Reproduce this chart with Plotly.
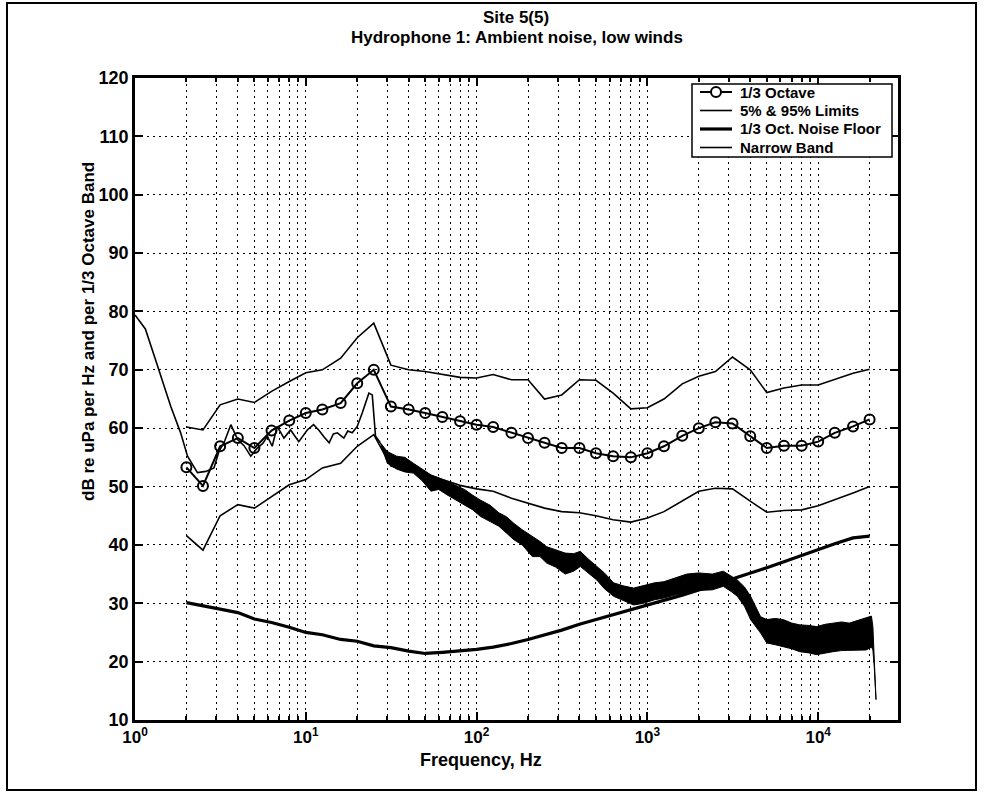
import plotly.graph_objects as go

# 1/3-octave band centre frequencies (Hz)
oct_freq = [2, 2.5, 3.15, 4, 5, 6.3, 8, 10, 12.5, 16, 20, 25, 31.5, 40, 50, 63, 80,
            100, 125, 160, 200, 250, 315, 400, 500, 630, 800, 1000, 1250, 1600,
            2000, 2500, 3150, 4000, 5000, 6300, 8000, 10000, 12500, 16000, 20000]

# 1/3-octave levels (dB)
oct_level = [53.3, 50.1, 56.9, 58.3, 56.6, 59.6, 61.3, 62.6, 63.2, 64.3, 67.7, 70.0,
             63.7, 63.2, 62.6, 61.9, 61.2, 60.6, 60.2, 59.2, 58.3, 57.5, 56.6, 56.6,
             55.7, 55.2, 55.0, 55.7, 56.9, 58.7, 60.0, 61.0, 60.8, 58.6, 56.6, 57.0,
             57.0, 57.7, 59.2, 60.3, 61.5]

# 95% and 5% limits (dB)
lim95 = [60.2, 59.7, 64.0, 65.0, 64.4, 66.3, 68.0, 69.5, 70.0, 72.0, 75.5, 78.0,
         70.8, 70.0, 69.7, 69.2, 68.7, 68.6, 69.2, 68.3, 68.3, 65.0, 65.7, 68.3,
         68.2, 66.0, 63.3, 63.5, 65.0, 67.6, 68.9, 69.7, 72.2, 70.0, 66.1, 66.9,
         67.4, 67.4, 68.4, 69.4, 70.1]
lim5 = [41.6, 39.1, 45.0, 46.9, 46.3, 48.3, 50.3, 51.2, 53.2, 54.0, 56.9, 58.9,
        53.5, 52.8, 52.2, 51.2, 50.2, 49.6, 49.2, 48.0, 47.2, 46.3, 45.7, 45.5,
        45.0, 44.3, 43.9, 44.6, 45.7, 47.6, 49.2, 49.7, 49.6, 47.5, 45.6, 45.9,
        46.0, 46.7, 47.7, 48.9, 50.0]

# 1/3-octave system noise floor (dB)
floor_level = [30.1, 29.6, 29.0, 28.4, 27.3, 26.7, 25.9, 25.0, 24.6, 23.8, 23.5, 22.7,
               22.4, 21.8, 21.4, 21.6, 21.8, 22.1, 22.5, 23.1, 23.8, 24.6, 25.4, 26.4,
               27.2, 28.0, 28.8, 29.7, 30.5, 31.4, 32.3, 33.2, 34.2, 35.2, 36.1, 37.1,
               38.2, 39.2, 40.2, 41.2, 41.5]

# Narrow-band spectrum, low-frequency part (single trace)
nb_freq = [1.0, 1.15, 1.3, 1.45, 1.62, 1.85, 2.03, 2.32, 2.6, 2.9, 3.1, 3.35, 3.64,
           4.0, 4.35, 4.76, 5.2, 5.6, 5.96, 6.36, 6.8, 7.45, 8.14, 9.1, 10.2, 11.1,
           11.9, 12.8, 13.7, 14.5, 15.3, 16.7, 17.6, 18.7, 20.0, 21.4, 22.5, 23.4,
           24.5, 25.6, 27.3]
nb_level = [79.4, 77.0, 72.3, 68.0, 63.7, 59.2, 55.2, 52.4, 52.6, 53.2, 56.0, 57.8,
            60.6, 58.0, 57.0, 55.2, 56.6, 57.4, 58.6, 56.9, 60.3, 58.3, 59.7, 57.7,
            59.7, 60.6, 59.7, 58.5, 57.5, 59.0, 59.2, 58.3, 59.5, 59.2, 60.3, 62.6,
            64.5, 66.0, 65.7, 58.6, 57.5]

# Narrow-band spectrum above ~27 Hz: spread of the dense bins (upper / lower edge, dB)
band_freq = [27.3, 30, 34, 38, 42.6, 48, 54, 60, 67, 75, 85, 95, 105, 120, 135, 150,
             165, 185, 212, 235, 257, 290, 330, 370, 405, 450, 505, 560, 634, 720,
             830, 950, 1100, 1250, 1450, 1700, 2000, 2400, 2780, 3100, 3360, 3700,
             4020, 4600, 5000, 5600, 6250, 7000, 7800, 8800, 9800, 11000, 12200,
             13700, 15200, 17000, 19100, 20500, 20900, 21300, 21800]
band_upper = [57.5, 56.0, 55.2, 55.0, 54.0, 53.0, 52.0, 51.5, 50.9, 50.2, 49.5, 48.5,
              47.7, 46.8, 45.5, 44.8, 43.7, 42.6, 41.5, 40.6, 39.7, 39.2, 38.6, 38.5,
              38.9, 37.6, 36.3, 35.2, 33.5, 33.0, 32.6, 33.0, 33.5, 33.7, 34.3, 35.0,
              35.2, 35.0, 35.5, 34.6, 34.0, 32.8, 31.2, 27.7, 27.2, 27.4, 27.2, 26.6,
              26.3, 26.2, 26.0, 26.4, 26.6, 26.8, 26.6, 27.0, 27.5, 27.8, 26.0, 21.0,
              13.5]
band_lower = [57.5, 54.0, 53.0, 52.5, 52.3, 51.0, 49.2, 49.5, 48.6, 47.8, 46.8, 46.0,
              44.9, 44.0, 43.2, 42.0, 40.9, 40.0, 38.0, 38.0, 36.9, 36.2, 35.0, 35.5,
              36.3, 35.2, 34.0, 32.5, 31.2, 30.5, 29.7, 30.0, 30.6, 30.9, 31.4, 31.8,
              32.2, 32.3, 32.9, 32.0, 31.2, 29.5, 27.2, 24.9, 23.2, 22.9, 22.6, 22.2,
              21.7, 21.5, 21.2, 21.5, 21.7, 21.9, 22.0, 22.0, 22.0, 22.5, 22.0, 19.0,
              13.5]

# Axis ticks
x_tick_vals = [1, 10, 100, 1000, 10000]
x_tick_text = ["10<sup>0</sup>", "10<sup>1</sup>", "10<sup>2</sup>",
               "10<sup>3</sup>", "10<sup>4</sup>"]
y_tick_vals = [10, 20, 30, 40, 50, 60, 70, 80, 90, 100, 110, 120]

# Legend entries: label, line width, circle marker
legend_labels = ["1/3 Octave", "5% & 95% Limits", "1/3 Oct. Noise Floor", "Narrow Band"]
legend_widths = [2, 1.6, 3.2, 1.6]
legend_marker = [True, False, False, False]

# Plot-area geometry in pixels
W, H = 984, 807
L, R, T, B = 135, 898, 78, 720


def px(xpix):
    return (xpix - L) / (R - L)


def py(ypix):
    return (B - ypix) / (B - T)


minor_vals = [m * 10 ** d for d in range(0, 5) for m in range(2, 10)]

FONT = "Liberation Sans, Arial, Helvetica, sans-serif"
DOTS = "2px,4px"

fig = go.Figure()

# Dense narrow-band region drawn as a filled strip
fig.add_trace(go.Scatter(
    x=band_freq + band_freq[::-1],
    y=band_upper + band_lower[::-1],
    mode="lines", fill="toself", fillcolor="black",
    line=dict(color="black", width=1), hoverinfo="skip",
))
fig.add_trace(go.Scatter(
    x=nb_freq, y=nb_level, mode="lines", name="Narrow Band",
    line=dict(color="black", width=1.6),
))
fig.add_trace(go.Scatter(
    x=oct_freq, y=lim95, mode="lines", name="95% limit",
    line=dict(color="black", width=1.6),
))
fig.add_trace(go.Scatter(
    x=oct_freq, y=lim5, mode="lines", name="5% limit",
    line=dict(color="black", width=1.6),
))
fig.add_trace(go.Scatter(
    x=oct_freq, y=floor_level, mode="lines", name="1/3 Oct. Noise Floor",
    line=dict(color="black", width=3.2),
))
fig.add_trace(go.Scatter(
    x=oct_freq, y=oct_level, mode="lines+markers", name="1/3 Octave",
    line=dict(color="black", width=2),
    marker=dict(symbol="circle-open", size=10, color="black",
                line=dict(color="black", width=2)),
))

axis_common = dict(
    showline=True, linecolor="black", linewidth=2.5, mirror="ticks",
    ticks="inside", tickcolor="black", ticklen=8, tickwidth=1.5,
    showgrid=True, gridcolor="black", gridwidth=1.2, griddash=DOTS,
    zeroline=False,
    tickfont=dict(family=FONT, size=18, color="black", weight="bold"),
)

fig.update_xaxes(
    type="log", range=[0, (R - L) / 170.8], tickmode="array",
    tickvals=x_tick_vals, ticktext=x_tick_text,
    minor=dict(tickvals=minor_vals, showgrid=True, gridcolor="black",
               gridwidth=1.2, griddash=DOTS, ticks="inside", ticklen=4,
               tickcolor="black"),
    **axis_common,
)
fig.update_xaxes(tickfont=dict(family=FONT, size=17, color="black", weight="bold"))
fig.update_yaxes(
    range=[10, 120], tickmode="array", tickvals=y_tick_vals,
    **axis_common,
)

bold = dict(family=FONT, color="black", weight="bold")

annotations = [
    dict(text="Site 5(5)", x=px(516), y=py(17), font=dict(size=17, **bold)),
    dict(text="Hydrophone 1: Ambient noise, low winds", x=px(517), y=py(38),
         font=dict(size=17, **bold)),
    dict(text="Frequency, Hz", x=px(481), y=py(760), font=dict(size=18, **bold)),
    dict(text="dB re uPa per Hz and per 1/3 Octave Band", x=px(88), y=py(332),
         textangle=-90, font=dict(size=17, **bold)),
]

# Legend box, samples and labels
leg_left, leg_right, leg_top, leg_bottom = 692, 892, 84, 157
row_y = [92, 110.5, 129, 147.5]
shapes = [
    dict(type="rect", xref="paper", yref="paper",
         x0=px(leg_left), x1=px(leg_right), y0=py(leg_bottom), y1=py(leg_top),
         line=dict(color="black", width=1.5), fillcolor="white", layer="above"),
]
for lab, lw, mk, yy in zip(legend_labels, legend_widths, legend_marker, row_y):
    shapes.append(dict(type="line", xref="paper", yref="paper",
                       x0=px(700), x1=px(732), y0=py(yy), y1=py(yy),
                       line=dict(color="black", width=lw), layer="above"))
    if mk:
        shapes.append(dict(type="circle", xref="paper", yref="paper",
                           x0=px(711), x1=px(721), y0=py(yy + 5), y1=py(yy - 5),
                           line=dict(color="black", width=2), fillcolor="white",
                           layer="above"))
    annotations.append(dict(text=lab, x=px(738), y=py(yy), xanchor="left",
                            font=dict(size=15, **bold)))

# Frame round the whole figure
shapes.append(dict(type="rect", xref="paper", yref="paper",
                   x0=px(7), x1=px(976), y0=py(790), y1=py(3),
                   line=dict(color="black", width=2), fillcolor="rgba(0,0,0,0)",
                   layer="above"))

for a in annotations:
    a.setdefault("xanchor", "center")
    a.update(xref="paper", yref="paper", yanchor="middle", showarrow=False)

fig.update_layout(
    width=W, height=H, autosize=False,
    margin=dict(l=L, r=W - R, t=T, b=H - B, pad=0),
    paper_bgcolor="white", plot_bgcolor="white",
    font=dict(size=17, **bold),
    showlegend=False,
    annotations=annotations,
    shapes=shapes,
)

fig.write_html("out.html")
